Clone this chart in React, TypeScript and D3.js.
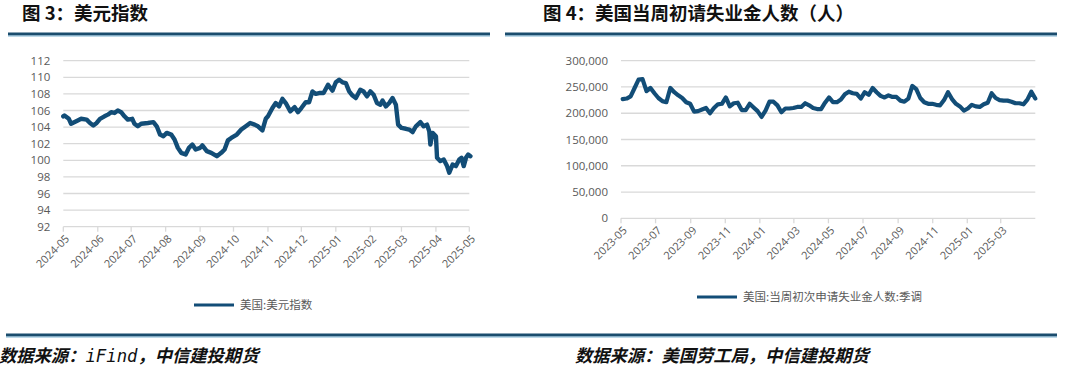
import React from 'react';
import * as d3 from 'd3';

// 图3 美元指数 (daily)
const dxyDates = [
  '2024-05-01', '2024-05-02', '2024-05-06', '2024-05-08', '2024-05-14', '2024-05-17', '2024-05-22', '2024-05-25',
  '2024-05-28', '2024-05-31', '2024-06-03', '2024-06-07', '2024-06-10', '2024-06-13', '2024-06-16', '2024-06-19',
  '2024-06-22', '2024-06-25', '2024-06-28', '2024-07-02', '2024-07-04', '2024-07-07', '2024-07-10', '2024-07-16',
  '2024-07-21', '2024-07-24', '2024-07-27', '2024-07-30', '2024-08-02', '2024-08-06', '2024-08-09', '2024-08-12',
  '2024-08-15', '2024-08-19', '2024-08-22', '2024-08-25', '2024-08-28', '2024-09-01', '2024-09-03', '2024-09-07',
  '2024-09-11', '2024-09-16', '2024-09-20', '2024-09-23', '2024-09-26', '2024-09-29', '2024-10-04', '2024-10-08',
  '2024-10-13', '2024-10-16', '2024-10-20', '2024-10-23', '2024-10-27', '2024-10-30', '2024-11-01', '2024-11-05',
  '2024-11-08', '2024-11-11', '2024-11-14', '2024-11-17', '2024-11-21', '2024-11-25', '2024-11-28', '2024-12-01',
  '2024-12-05', '2024-12-08', '2024-12-11', '2024-12-14', '2024-12-17', '2024-12-21', '2024-12-25', '2024-12-29',
  '2025-01-01', '2025-01-04', '2025-01-07', '2025-01-10', '2025-01-13', '2025-01-16', '2025-01-19', '2025-01-23',
  '2025-01-26', '2025-01-29', '2025-02-01', '2025-02-04', '2025-02-07', '2025-02-10', '2025-02-12', '2025-02-15',
  '2025-02-18', '2025-02-21', '2025-02-24', '2025-02-26', '2025-03-01', '2025-03-05', '2025-03-08', '2025-03-11',
  '2025-03-14', '2025-03-18', '2025-03-21', '2025-03-24', '2025-03-26', '2025-03-27', '2025-03-29', '2025-04-01',
  '2025-04-02', '2025-04-05', '2025-04-08', '2025-04-11', '2025-04-13', '2025-04-16', '2025-04-19', '2025-04-22',
  '2025-04-24', '2025-04-26', '2025-04-28', '2025-04-30', '2025-05-02',
];
const dxyValues = [
  105.3, 105.4, 105.0, 104.4, 104.8, 105.0, 104.9, 104.5,
  104.2, 104.5, 105.0, 105.3, 105.5, 105.8, 105.7, 106.0,
  105.8, 105.3, 104.9, 105.0, 104.4, 104.1, 104.4, 104.5,
  104.6, 104.1, 103.1, 102.9, 103.3, 103.1, 102.5, 101.5,
  100.9, 100.7, 101.5, 101.9, 101.3, 101.5, 101.8, 101.1,
  100.9, 100.5, 100.9, 101.3, 102.4, 102.7, 103.1, 103.7,
  104.2, 104.5, 104.3, 104.1, 103.6, 105.0, 105.3, 106.3,
  106.9, 106.5, 107.4, 106.9, 105.9, 106.4, 105.8, 106.3,
  107.0, 107.0, 108.3, 108.0, 108.1, 108.1, 109.1, 108.4,
  109.4, 109.7, 109.4, 109.3, 108.3, 107.8, 107.5, 108.5,
  108.3, 107.7, 108.3, 107.9, 106.9, 106.7, 107.2, 106.5,
  106.9, 107.5, 106.7, 104.3, 103.9, 103.8, 103.7, 103.4,
  104.1, 104.6, 104.1, 104.3, 103.5, 101.9, 103.3, 102.9,
  100.3, 99.9, 100.1, 99.3, 98.5, 99.5, 99.3, 100.1,
  100.3, 99.3, 100.3, 100.7, 100.5,
];
const dxyTicks = [92, 94, 96, 98, 100, 102, 104, 106, 108, 110, 112];

// 图4 美国当周初次申请失业金人数:季调 (weekly from 2023-05-04)
const claimsStart = '2023-05-04';
const claimsValues = [
  227000, 228000, 232000, 248000, 264000, 265000, 242000, 248000, 238000, 229000,
  223000, 221000, 248000, 240000, 234000, 229000, 221000, 218000, 203000, 204000,
  207000, 210000, 200000, 210000, 217000, 218000, 230000, 213000, 219000, 220000,
  206000, 206000, 218000, 211000, 204000, 193000, 205000, 222000, 222000, 215000,
  202000, 209000, 209000, 210000, 212000, 212000, 219000, 215000, 210000, 208000,
  208000, 220000, 230000, 221000, 221000, 226000, 236000, 241000, 238000, 237000,
  228000, 240000, 235000, 248000, 240000, 233000, 230000, 234000, 231000, 231000,
  224000, 222000, 228000, 252000, 246000, 229000, 221000, 218000, 218000, 216000,
  215000, 225000, 240000, 227000, 218000, 213000, 205000, 209000, 216000, 213000,
  212000, 217000, 220000, 238000, 229000, 225000, 224000, 224000, 222000, 219000,
  219000, 217000, 226000, 241000, 228000,
];
const claimsTicks = [0, 50000, 100000, 150000, 200000, 250000, 300000];

const LINE = '#124d77';
const RULE = '#1b4d6e';
const GRID = '#d9d9d9';
const TXT = '#595959';
const parse = d3.timeParse('%Y-%m-%d');
const fmtMonth = d3.timeFormat('%Y-%m');
const tickFont = '"Open Sans", "Noto Sans CJK SC", sans-serif';
const cjk = '"Noto Sans CJK SC", sans-serif';

type Pt = { date: Date; value: number };

interface PanelProps {
  data: Pt[];
  xDomain: [Date, Date];
  xRange: [number, number];
  xTicks: Date[];
  yDomain: [number, number];
  yRange: [number, number];
  yTicks: number[];
  yFormat: (v: number) => string;
  strokeWidth: number;
  legend: string;
  legendX: number;
  legendY: number;
}

const Panel: React.FC<PanelProps> = (p) => {
  const x = d3.scaleTime().domain(p.xDomain).range(p.xRange);
  const y = d3.scaleLinear().domain(p.yDomain).range(p.yRange);
  const line = d3
    .line<Pt>()
    .x((d) => x(d.date))
    .y((d) => y(d.value));
  const [x0, x1] = p.xRange;
  const yBase = y(p.yDomain[0]);

  return (
    <g>
      {/* grid */}
      {p.yTicks.map((t) => (
        <line key={t} x1={x0} x2={x1} y1={y(t)} y2={y(t)} stroke={GRID} strokeWidth={1.3} />
      ))}
      {p.yTicks.map((t) => (
        <text key={'l' + t} x={x0 - 13} y={y(t)} dy="0.35em" textAnchor="end" fontSize={11.5} fill={TXT} fontFamily={tickFont}>
          {p.yFormat(t)}
        </text>
      ))}
      {/* x ticks */}
      {p.xTicks.map((t) => (
        <g key={t.getTime()} transform={`translate(${x(t)},${yBase})`}>
          <line y1={0} y2={5} stroke={GRID} strokeWidth={1.3} />
          <text transform="translate(4,10) rotate(-45)" textAnchor="end" dy="0.35em" fontSize={11} fill={TXT} fontFamily={tickFont}>
            {fmtMonth(t)}
          </text>
        </g>
      ))}
      <path d={line(p.data) ?? ''} fill="none" stroke={LINE} strokeWidth={p.strokeWidth} strokeLinejoin="round" strokeLinecap="round" />
      {/* legend */}
      <line x1={p.legendX} x2={p.legendX + 40} y1={p.legendY} y2={p.legendY} stroke={LINE} strokeWidth={3} />
      <text x={p.legendX + 46} y={p.legendY} dy="0.35em" fontSize={11.5} fill={TXT} fontFamily={cjk}>
        {p.legend}
      </text>
    </g>
  );
};

export default function App() {
  const dxy: Pt[] = dxyDates.map((d, i) => ({ date: parse(d) as Date, value: dxyValues[i] }));
  const start = parse(claimsStart) as Date;
  const claims: Pt[] = claimsValues.map((v, i) => ({ date: d3.timeWeek.offset(start, i), value: v }));

  const lStart = parse('2024-05-01') as Date;
  const lEnd = parse('2025-05-01') as Date;
  const rStart = parse('2023-05-01') as Date;
  const rEnd = parse('2025-05-01') as Date;

  return (
    <svg width={1080} height={373} style={{ position: 'absolute', left: 0, top: 0, background: '#fff' }}>
      <rect width={1080} height={373} fill="#fff" />
      {/* titles */}
      <text x={22} y={20} fontSize={18.5} fontWeight={700} fontFamily={cjk} fill="#111">
        图 3：美元指数
      </text>
      <text x={543} y={20} fontSize={18.5} fontWeight={700} fontFamily={cjk} fill="#111">
        图 4：美国当周初请失业金人数（人）
      </text>
      <line x1={8} x2={490} y1={34} y2={34} stroke={RULE} strokeWidth={3} />
      <line x1={8} x2={490} y1={36} y2={36} stroke="#7fb3d1" strokeWidth={1} />
      <line x1={505} x2={1057} y1={34} y2={34} stroke={RULE} strokeWidth={3} />
      <line x1={505} x2={1057} y1={36} y2={36} stroke="#7fb3d1" strokeWidth={1} />

      <Panel
        data={dxy}
        xDomain={[lStart, lEnd]}
        xRange={[63.3, 469.3]}
        xTicks={d3.timeMonth.range(lStart, d3.timeDay.offset(lEnd, 1))}
        yDomain={[92, 112]}
        yRange={[226.7, 60.7]}
        yTicks={dxyTicks}
        yFormat={(v) => String(v)}
        strokeWidth={4.4}
        legend="美国:美元指数"
        legendX={194}
        legendY={305}
      />
      <Panel
        data={claims}
        xDomain={[rStart, rEnd]}
        xRange={[621, 1035.3]}
        xTicks={d3.timeMonth.every(2)!.range(rStart, rEnd)}
        yDomain={[0, 300000]}
        yRange={[218.3, 60.7]}
        yTicks={claimsTicks}
        yFormat={d3.format(',')}
        strokeWidth={4.2}
        legend="美国:当周初次申请失业金人数:季调"
        legendX={697}
        legendY={297}
      />

      {/* bottom rule & sources */}
      <line x1={6} x2={1057} y1={335} y2={335} stroke={RULE} strokeWidth={3} />
      <line x1={6} x2={1057} y1={337} y2={337} stroke="#7fb3d1" strokeWidth={1} />
      <text x={-1} y={362} fontSize={17.3} fontWeight={700} fontStyle="italic" fontFamily={cjk} fill="#111">
        数据来源：<tspan fontFamily='"DejaVu Sans Mono", monospace' fontWeight={400}>iFind</tspan>，中信建投期货
      </text>
      <text x={575} y={362} fontSize={17.3} fontWeight={700} fontStyle="italic" fontFamily={cjk} fill="#111">
        数据来源：美国劳工局，中信建投期货
      </text>
    </svg>
  );
}
